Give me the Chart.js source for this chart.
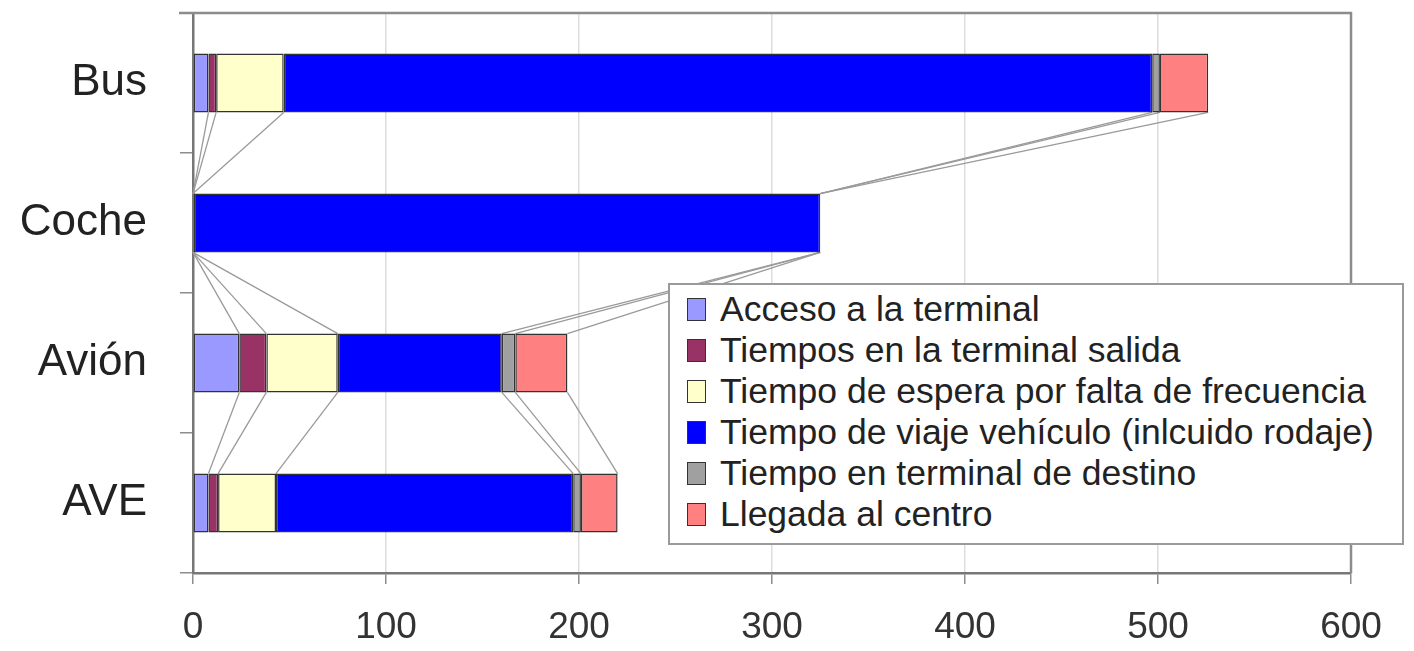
<!DOCTYPE html>
<html>
<head>
<meta charset="utf-8">
<script src="https://cdn.jsdelivr.net/npm/chart.js@4/dist/chart.umd.min.js"></script>
<style>
  html, body { margin: 0; padding: 0; background: #fff; }
  #wrap { position: relative; width: 1414px; height: 651px; }
  #legend {
    position: absolute; left: 668px; top: 283px; width: 732px; height: 254px;
    background: #fff; border: 2px solid #9a9a9a; box-sizing: content-box;
    font-family: 'Liberation Sans', Arial, sans-serif; font-size: 35.5px; color: #222;
    padding-top: 4px;
  }
  .row { display: flex; align-items: center; height: 41px; padding-left: 17px; white-space: nowrap; }
  .sw { width: 17px; height: 21px; border: 1.5px solid #333; margin-right: 14px; flex: none; }
</style>
</head>
<body>
<div id="wrap">
  <canvas id="chart" width="1414" height="651"></canvas>
  <div id="legend"></div>
</div>
<script>
// tiempos por modo (minutos)
const categories = ['Bus', 'Coche', 'Avión', 'AVE'];
const acceso      = [8, 0, 24, 8];
const salida      = [4, 0, 14, 5];
const espera      = [35, 0, 37, 30];
const viaje       = [450, 325, 85, 154];
const destino     = [4, 0, 7, 4];
const llegada     = [25, 0, 27, 19];
const xTicks      = [0, 100, 200, 300, 400, 500, 600];

const series = [
    { label: 'Acceso a la terminal', data: acceso, color: '#9999ff' },
    { label: 'Tiempos en la terminal salida', data: salida, color: '#993366' },
    { label: 'Tiempo de espera por falta de frecuencia', data: espera, color: '#ffffcc' },
    { label: 'Tiempo de viaje vehículo (inlcuido rodaje)', data: viaje, color: '#0000ff' },
    { label: 'Tiempo en terminal de destino', data: destino, color: '#a0a0a0' },
    { label: 'Llegada al centro', data: llegada, color: '#ff8080' }
];

// líneas de serie entre barras consecutivas (como en Excel)
const seriesLines = {
    id: 'seriesLines',
    beforeDatasetsDraw(chart) {
        const ctx = chart.ctx;
        ctx.save();
        ctx.strokeStyle = '#9a9a9a';
        ctx.lineWidth = 1.3;
        chart.data.datasets.forEach((ds, d) => {
            const els = chart.getDatasetMeta(d).data;
            for (let i = 0; i < els.length - 1; i++) {
                const a = els[i].getProps(['x', 'y', 'height'], true);
                const b = els[i + 1].getProps(['x', 'y', 'height'], true);
                ctx.beginPath();
                ctx.moveTo(a.x, a.y + a.height / 2);
                ctx.lineTo(b.x, b.y - b.height / 2);
                ctx.stroke();
            }
        });
        ctx.restore();
    }
};

// marco superior y derecho del área de trazado
const plotFrame = {
    id: 'plotFrame',
    beforeDatasetsDraw(chart) {
        const { left, right, top, bottom } = chart.chartArea;
        const ctx = chart.ctx;
        ctx.save();
        ctx.strokeStyle = '#8c8c8c';
        ctx.lineWidth = 2.5;
        ctx.beginPath();
        ctx.moveTo(left - 14, top);
        ctx.lineTo(right, top);
        ctx.lineTo(right, bottom);
        ctx.stroke();
        ctx.restore();
    }
};

const chart = new Chart(document.getElementById('chart'), {
    type: 'bar',
    data: {
        labels: categories,
        datasets: series.map(s => ({
            label: s.label,
            data: s.data,
            backgroundColor: s.color,
            borderColor: '#333',
            borderWidth: 1.5,
            borderSkipped: false,
            categoryPercentage: 0.42,
            barPercentage: 1
        }))
    },
    options: {
        indexAxis: 'y',
        responsive: false,
        animation: false,
        devicePixelRatio: 1,
        layout: { padding: { top: 13, right: 63, left: 0, bottom: 0 } },
        plugins: { legend: { display: false }, tooltip: { enabled: false } },
        scales: {
            x: {
                stacked: true,
                min: 0, max: 600,
                afterBuildTicks: sc => { sc.ticks = xTicks.map(v => ({ value: v })); },
                afterFit: sc => { sc.height = 78; sc.paddingLeft = 0; sc.paddingRight = 0; },
                grid: { color: '#dddddd', tickColor: '#8c8c8c', tickLength: 11, lineWidth: 1.5 },
                border: { color: '#777', width: 2.5 },
                ticks: {
                    color: '#333', padding: 22,
                    font: { family: "'Liberation Sans', Arial", size: 37 }
                }
            },
            y: {
                stacked: true,
                afterFit: sc => { sc.width = 193; sc.paddingTop = 0; sc.paddingBottom = 0; },
                grid: { offset: true, drawOnChartArea: false, tickColor: '#8c8c8c', tickLength: 13, lineWidth: 1.5 },
                border: { color: '#777', width: 2.5 },
                ticks: {
                    color: '#222', padding: 33,
                    font: { family: "'Liberation Sans', Arial", size: 44 }
                }
            }
        }
    },
    plugins: [plotFrame, seriesLines]
});

// leyenda
const legendEl = document.getElementById('legend');
chart.data.datasets.forEach(ds => {
    const row = document.createElement('div');
    row.className = 'row';
    row.innerHTML = `<span class="sw" style="background:${ds.backgroundColor}"></span><span>${ds.label}</span>`;
    legendEl.appendChild(row);
});
</script>
</body>
</html>
